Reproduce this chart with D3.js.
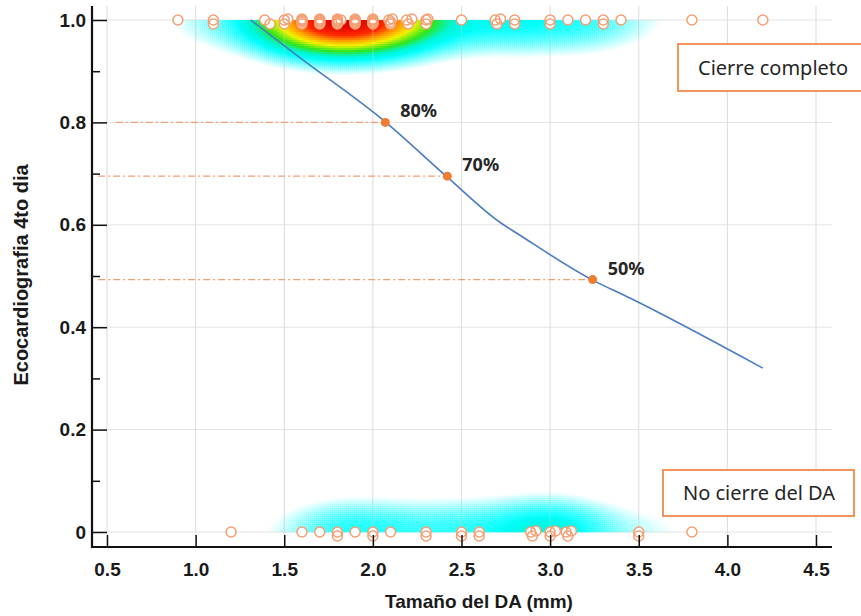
<!DOCTYPE html>
<html><head><meta charset="utf-8">
<script src="https://cdn.jsdelivr.net/npm/d3@7"></script>
<style>body{margin:0;background:#fff} svg{display:block}</style>
</head><body>
<svg id="c" width="861" height="616"></svg>
<script>
// ---------- data ----------
const xTicks = [0.5, 1.0, 1.5, 2.0, 2.5, 3.0, 3.5, 4.0, 4.5];
const xTickLabels = ["0.5", "1.0", "1.5", "2.0", "2.5", "3.0", "3.5", "4.0", "4.5"];
const yTicks = [0, 0.2, 0.4, 0.6, 0.8, 1.0];
const yTickLabels = ["0", "0.2", "0.4", "0.6", "0.8", "1.0"];
const yMinorTicks = [0.1, 0.3, 0.5, 0.7, 0.9];

// observations with complete closure (y = 1)
const closedX = [0.9, 1.1, 1.1, 1.39, 1.42, 1.5, 1.5, 1.52,
  1.6, 1.6, 1.6, 1.6, 1.6, 1.7, 1.7, 1.7, 1.7, 1.7, 1.7,
  1.8, 1.8, 1.8, 1.8, 1.8, 1.8, 1.82, 1.9, 1.9, 1.9, 1.9, 1.9, 1.9,
  2.0, 2.0, 2.0, 2.0, 2.0, 2.0, 2.09, 2.1, 2.11, 2.1, 2.19, 2.2, 2.22,
  2.3, 2.3, 2.31, 2.5, 2.69, 2.7, 2.72, 2.8, 2.8, 3.0, 3.0, 3.1, 3.2,
  3.3, 3.3, 3.4, 3.8, 4.2];
// observations without closure (y = 0)
const notClosedX = [1.2, 1.6, 1.7, 1.8, 1.8, 1.9, 2.0, 2.0, 2.1, 2.3, 2.3,
  2.5, 2.5, 2.6, 2.6, 2.89, 2.9, 2.92, 3.0, 3.0, 3.03, 3.09, 3.1, 3.12,
  3.5, 3.5, 3.8];

// fitted probability curve
const curveX = [1.31, 1.59, 2.07, 2.42, 2.72, 2.81, 3.24, 3.45, 4.20];
const curveY = [1.0, 0.926, 0.801, 0.693, 0.604, 0.584, 0.492, 0.457, 0.320];

// highlighted probabilities
const markLabels = ["80%", "70%", "50%"];
const markX = [2.07, 2.42, 3.24];
const markY = [0.80, 0.695, 0.493];
const guideStartX = [0.55, 0.45, 0.45];

const groupLabels = ["Cierre completo", "No cierre del DA"];
const xTitle = "Tamaño del DA (mm)";
const yTitle = "Ecocardiografia 4to dia";

// ---------- layout ----------
const svg = d3.select("#c");
const x = d3.scaleLinear().domain([0.5, 4.5]).range([107, 816]);
const y = d3.scaleLinear().domain([0, 1]).range([532, 20]);
const axisLeftX = 92, axisBottomY = 547, plotTop = 6, plotRight = 832;

// gridlines
const grid = svg.append("g").attr("stroke", "#e3e3e3").attr("stroke-width", 1);
grid.selectAll("line.v").data(xTicks).join("line").attr("class", "v")
  .attr("x1", d => x(d)).attr("x2", d => x(d)).attr("y1", plotTop).attr("y2", axisBottomY);
grid.selectAll("line.h").data(yTicks).join("line").attr("class", "h")
  .attr("x1", axisLeftX).attr("x2", plotRight).attr("y1", d => y(d)).attr("y2", d => y(d));

// ---------- density heat bands ----------
const hx = 0.23, hy = 0.048;
function kx(xs, v) { let s = 0; for (const xi of xs) { const u = (v - xi) / hx; s += Math.exp(-0.5 * u * u); } return s; }
let fmax = 0;
for (let v = 0.5; v <= 4.5; v += 0.01) fmax = Math.max(fmax, kx(closedX, v), kx(notClosedX, v));
const heatColor = d3.scaleLinear()
  .domain([0.24, 0.33, 0.44, 0.58, 0.7, 0.82, 1])
  .range(["#00ffff", "#00f6d6", "#2ee61e", "#f2f200", "#ff9a00", "#ff2a00", "#dd0000"])
  .clamp(true);
const cells = [];
const cs = 2;
for (let px = 150; px < 700; px += cs) {
  const xv = x.invert(px + cs / 2);
  const kTop = kx(closedX, xv) / fmax;
  const kBot = kx(notClosedX, xv) / fmax;
  for (let py = y(1); py < y(1) + 70; py += cs) {
    const d = 1 - y.invert(py + cs / 2);
    const t = kTop * Math.exp(-0.5 * (d / hy) * (d / hy));
    if (t > 0.08) cells.push({ px, py, t });
  }
  for (let py = y(0) - cs; py > y(0) - 70; py -= cs) {
    const d = y.invert(py + cs / 2);
    const t = kBot * Math.exp(-0.5 * (d / hy) * (d / hy));
    if (t > 0.08) cells.push({ px, py, t });
  }
}
svg.append("g").selectAll("rect").data(cells).join("rect")
  .attr("x", d => d.px).attr("y", d => d.py).attr("width", cs + 0.3).attr("height", cs + 0.3)
  .attr("fill", d => heatColor(d.t))
  .attr("fill-opacity", d => Math.min(1, (d.t - 0.08) / 0.18));

// faint gridlines over the heat
const grid2 = svg.append("g").attr("stroke", "#d8d8d8").attr("stroke-width", 1).attr("stroke-opacity", 0.35);
grid2.selectAll("line").data(xTicks).join("line")
  .attr("x1", d => x(d)).attr("x2", d => x(d)).attr("y1", plotTop).attr("y2", axisBottomY);

// ---------- guide lines ----------
svg.append("g").selectAll("line").data(markY).join("line")
  .attr("x1", (d, i) => x(guideStartX[i])).attr("x2", (d, i) => x(markX[i]))
  .attr("y1", d => y(d)).attr("y2", d => y(d))
  .attr("stroke", "#f0a070").attr("stroke-width", 1.2).attr("stroke-dasharray", "7,3,2,3");

// ---------- curve ----------
const curvePts = curveX.map((v, i) => [v, curveY[i]]);
svg.append("path").datum(curvePts)
  .attr("d", d3.line().x(d => x(d[0])).y(d => y(d[1])).curve(d3.curveMonotoneX))
  .attr("fill", "none").attr("stroke", "#4a7cc0").attr("stroke-width", 1.6);

// ---------- observations ----------
const stackOffsets = [0, 4, -1, 2, 1, 3, 0, 2];
function stacked(xs, yv) {
  const seen = new Map();
  return xs.map(v => {
    const k = Math.round(v * 10);
    const n = seen.get(k) || 0; seen.set(k, n + 1);
    return { cx: x(v), cy: y(yv) + stackOffsets[n % stackOffsets.length] };
  });
}
const obs = stacked(closedX, 1).concat(stacked(notClosedX, 0));
svg.append("g").selectAll("circle").data(obs).join("circle")
  .attr("cx", d => d.cx).attr("cy", d => d.cy).attr("r", 5)
  .attr("fill", "#fff").attr("fill-opacity", 0.9).attr("stroke", "none");
svg.append("g").selectAll("circle").data(obs).join("circle")
  .attr("cx", d => d.cx).attr("cy", d => d.cy).attr("r", 5)
  .attr("fill", "none").attr("stroke", "#f4a074").attr("stroke-width", 1.5);

// ---------- highlighted points ----------
svg.append("g").selectAll("circle").data(markX).join("circle")
  .attr("cx", d => x(d)).attr("cy", (d, i) => y(markY[i])).attr("r", 4.5)
  .attr("fill", "#ed7d31");
svg.append("g").selectAll("text").data(markLabels).join("text")
  .attr("x", (d, i) => x(markX[i]) + 15).attr("y", (d, i) => y(markY[i]) - 5)
  .attr("font-family", "'Noto Sans', 'Open Sans', sans-serif").attr("font-weight", "bold")
  .attr("font-size", 18).attr("fill", "#262626").text(d => d);

// ---------- axes ----------
const fontAxis = "'Liberation Sans', Arial, sans-serif";
const yAxis = svg.append("g").attr("transform", `translate(${axisLeftX},0)`)
  .call(d3.axisLeft(y).tickValues(yTicks).tickFormat((d, i) => yTickLabels[i]).tickSize(-15).tickPadding(6));
yAxis.select(".domain").remove();
yAxis.selectAll(".tick line").attr("stroke", "#111").attr("stroke-width", 1.5);
yAxis.selectAll("text").attr("font-family", fontAxis).attr("font-weight", "bold")
  .attr("font-size", 19).attr("fill", "#1a1a1a");
const yMinor = svg.append("g").attr("transform", `translate(${axisLeftX},0)`)
  .call(d3.axisLeft(y).tickValues(yMinorTicks).tickFormat("").tickSize(-8));
yMinor.select(".domain").remove();
yMinor.selectAll(".tick line").attr("stroke", "#111").attr("stroke-width", 1.5);

const xAxis = svg.append("g").attr("transform", `translate(0,${axisBottomY})`)
  .call(d3.axisBottom(x).tickValues(xTicks).tickFormat((d, i) => xTickLabels[i]).tickSize(-12).tickPadding(16));
xAxis.select(".domain").remove();
xAxis.selectAll(".tick line").attr("stroke", "#111").attr("stroke-width", 1.5);
xAxis.selectAll("text").attr("font-family", fontAxis).attr("font-weight", "bold")
  .attr("font-size", 19).attr("fill", "#1a1a1a");

svg.append("path")
  .attr("d", `M${axisLeftX},${plotTop}V${axisBottomY}H${plotRight}`)
  .attr("fill", "none").attr("stroke", "#111").attr("stroke-width", 2.2);

// titles
svg.append("text").attr("x", 479).attr("y", 608).attr("text-anchor", "middle")
  .attr("font-family", fontAxis).attr("font-weight", "bold").attr("font-size", 19)
  .attr("fill", "#1a1a1a").text(xTitle);
svg.append("text").attr("transform", "translate(28,275) rotate(-90)").attr("text-anchor", "middle")
  .attr("font-family", fontAxis).attr("font-weight", "bold").attr("font-size", 20)
  .attr("fill", "#1a1a1a").text(yTitle);

// ---------- group boxes ----------
const boxes = [
  { label: groupLabels[0], x: 678, y: 44, w: 200, h: 47 },
  { label: groupLabels[1], x: 663, y: 470, w: 191, h: 46 }
];
const bg = svg.append("g").selectAll("g").data(boxes).join("g");
bg.append("rect").attr("x", d => d.x).attr("y", d => d.y).attr("width", d => d.w).attr("height", d => d.h)
  .attr("fill", "#fff").attr("stroke", "#f08a4b").attr("stroke-width", 1.8);
bg.append("text").attr("x", d => d.x + 20).attr("y", d => d.y + d.h / 2 + 7)
  .attr("font-family", "'Noto Sans', 'Open Sans', sans-serif").attr("font-size", 20)
  .attr("fill", "#262626").text(d => d.label);
</script>
</body></html>
